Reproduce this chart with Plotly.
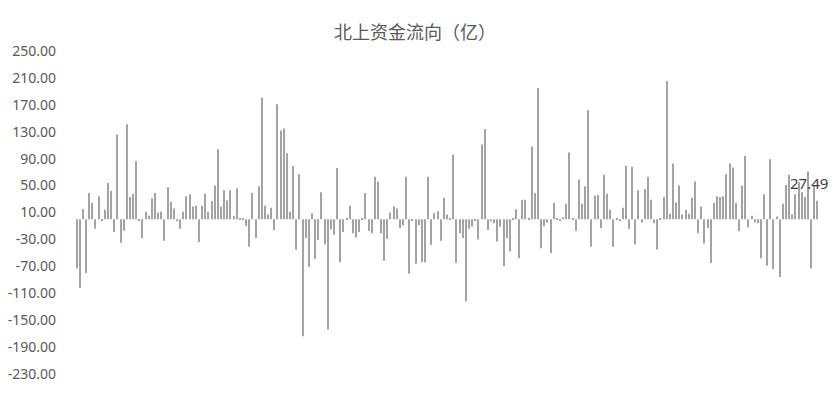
import plotly.graph_objects as go

# 북상자금 일별 순유입 (억), 그림에서 읽은 값
flows = [
    -73, -102, 15, -80, 39, 24, -14, 34, -2, 14,
    54, 42, -19, 126, -35, -17, 141, 33, 38, 86,
    -2, -28, 11, 5, 31, 39, 10, 11, -32, 48,
    26, 16, -3, -14, 11, 34, 37, 19, 20, -34,
    20, 38, 11, 27, 50, 104, 19, 43, 28, 43,
    5, 46, 2, 0.5, -10, -41, 39, -28, 49, 181,
    20, 7, 17, -16, 171, 132, 135, 98, 11, 79,
    -45, 67, -174, -28, -71, 9, -59, -31, 40, -37,
    -164, -15, -23, 76, -64, -19, 0.5, 20, -21, -27,
    -19, 0.5, 39, -17, -21, 63, 56, -21, -62, -29,
    10, 19, 16, -13, -9, 63, -81, -2, -66, -9,
    -64, -64, 63, -38, 9, 12, -32, 32, 7, 2,
    96, -65, -21, -28, -122, -14, -11, -2, -30, 111,
    134, -16, -3, -6, -33, -11, -70, -28, -48, 1.5,
    15, -58, 29, 29, 1.5, 108, 39, 195, -43, -10,
    -5, -50, 24, 0.5, -2, 3, 23, 99, 0.5, -17,
    59, 23, 49, 162, -41, 35, 36, -13, 66, 38,
    14, -41, 1.5, -3, 17, 79, -14, 78, -37, 43,
    -5, 45, 63, 29, -6, -45, 1.5, 33, 205, 8,
    83, 25, 50, 7, 14, 8, 32, 56, -21, 19,
    -36, -13, -65, 24, 34, 33, 34, 67, 83, 77,
    24, -18, 50, 94, -12, 5, -5, -6, -58, 37,
    -69, 89, -74, 4, -86, 23, 51, 66, 7, 37,
    55, 40, 33, 71, -73, 50, 27.49,
]
# x축 라벨은 표시하지 않으므로 순번만 사용
days = list(range(1, len(flows) + 1))
y_ticks = [250, 210, 170, 130, 90, 50, 10, -30, -70, -110, -150, -190, -230]

fig = go.Figure()
fig.add_trace(go.Bar(x=days, y=flows, marker_color='#a3a3a3', marker_line_width=0))

# 마지막 값 라벨
fig.add_annotation(
    x=days[-1], y=flows[-1], text=f'{flows[-1]:.2f}',
    showarrow=False, yanchor='bottom', xshift=-8, yshift=6,
    font=dict(family='Noto Sans', size=15, color='#404040')
)

fig.update_layout(
    width=835, height=405,
    margin=dict(l=75, r=16, t=51, b=31, autoexpand=False),
    paper_bgcolor='white', plot_bgcolor='white',
    bargap=0.68,
    showlegend=False,
    title=dict(
        text='北上资金流向（亿）', x=0.497, xref='container', xanchor='center',
        y=0.92, yref='container', yanchor='middle',
        font=dict(family='Noto Sans CJK SC', size=18, color='#595959')
    ),
    xaxis=dict(showticklabels=False, showgrid=False, zeroline=False, showline=False,
               range=[0.5, len(flows) + 0.5]),
    yaxis=dict(range=[-230, 250], tickvals=y_ticks, ticktext=[f'{v:.2f}' for v in y_ticks],
               showgrid=False, zeroline=False, showline=False, ticks='',
               ticklabelstandoff=18,
               tickfont=dict(family='Noto Sans', size=14, color='#595959')),
)

# 브라우저 기본 body 여백 제거, 툴바 숨김
fig.write_html('out.html', config={'displayModeBar': False},
               post_script="document.body.style.margin='0';")
